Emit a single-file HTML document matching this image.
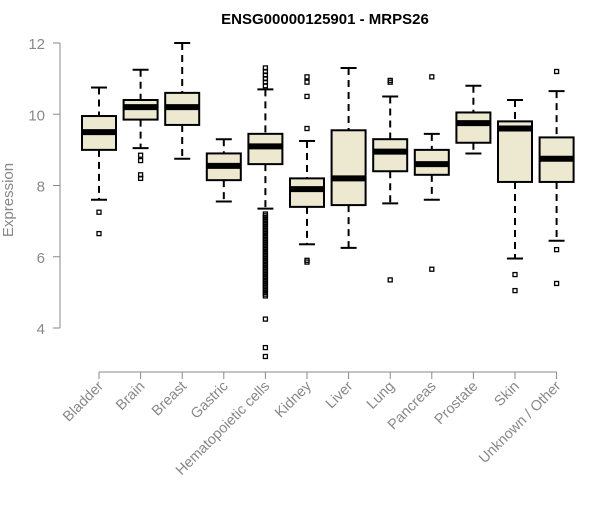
<!DOCTYPE html>
<html><head><meta charset="utf-8"><style>
body{margin:0;background:#fff}
svg text{font-family:"Liberation Sans",Arial,sans-serif}
</style></head><body>
<svg id="chart" width="600" height="500" xmlns="http://www.w3.org/2000/svg">
<text x="325" y="24" text-anchor="middle" font-size="15" font-weight="bold">ENSG00000125901 - MRPS26</text>
<text transform="translate(13,200) rotate(-90)" text-anchor="middle" font-size="15" fill="#888">Expression</text>
<g id="axes"></g><g id="boxes"></g>
</svg>
<script>
const categories=["Bladder","Brain","Breast","Gastric","Hematopoietic cells","Kidney","Liver","Lung","Pancreas","Prostate","Skin","Unknown / Other"];
const whiskerLow=[7.6,9.05,8.75,7.55,7.35,6.35,6.25,7.5,7.6,8.9,5.95,6.45];
const q1=[9.0,9.85,9.7,8.15,8.6,7.4,7.45,8.4,8.3,9.2,8.1,8.1];
const medians=[9.5,10.2,10.2,8.55,9.1,7.9,8.2,8.95,8.6,9.75,9.6,8.75];
const q3=[9.95,10.4,10.6,8.9,9.45,8.2,9.55,9.3,9.0,10.05,9.8,9.35];
const whiskerHigh=[10.75,11.25,12.0,9.3,10.7,9.25,11.3,10.5,9.45,10.8,10.4,10.65];
const outliers=[[7.25,6.65],[8.85,8.7,8.3,8.2],[],[],
[10.8,10.9,11.0,11.1,11.2,11.3,7.2,7.15,7.1,7.05,7.0,6.95,6.9,6.85,6.8,6.75,6.7,6.65,6.6,6.55,6.5,6.45,6.4,6.35,6.3,6.25,6.2,6.15,6.1,6.05,6.0,5.95,5.9,5.85,5.8,5.75,5.7,5.65,5.6,5.55,5.5,5.45,5.4,5.35,5.3,5.25,5.2,5.15,5.1,5.05,5.0,4.95,4.9,4.25,3.45,3.2],
[5.9,5.85,9.6,10.5,10.9,11.05],[],[10.9,10.95,5.35],[11.05,5.65],[],[5.5,5.05],[11.2,6.2,5.25]];
const yTicks=[4,6,8,10,12];
const NS="http://www.w3.org/2000/svg";
const y=v=>328-(v-4)*35.625;
const x=i=>99+i*41.6;
function mk(tag,attrs,parent){const e=document.createElementNS(NS,tag);for(const k in attrs)e.setAttribute(k,attrs[k]);parent.appendChild(e);return e;}
const axes=document.getElementById('axes'),boxes=document.getElementById('boxes');
let yl=mk('line',{x1:60,x2:60,y1:y(12),y2:y(4),stroke:'#888'},axes);


yTicks.forEach(t=>{
 let l=mk('line',{x1:53,x2:60,y1:y(t),y2:y(t),stroke:'#888'},axes);
 
 
 let tx=mk('text',{x:45,y:y(t)+6,'text-anchor':'end','font-size':15,fill:'#888'},axes);tx.textContent=t;
 
 
});
let xl=mk('line',{x1:x(0),x2:x(11),y1:372,y2:372,stroke:'#888'},axes);


categories.forEach((c,i)=>{
 const cx=x(i);
 let tk=mk('line',{x1:cx,x2:cx,y1:372,y2:379,stroke:'#888'},axes);
 
 
 let t=mk('text',{x:0,y:0,transform:`translate(${cx+5},${387}) rotate(-45)`,'text-anchor':'end','font-size':14.5,fill:'#888'},axes);t.textContent=c;
 
 
 const g=mk('g',{},boxes);
 
 
 mk('line',{x1:cx,x2:cx,y1:y(whiskerHigh[i]),y2:y(q3[i]),stroke:'#000','stroke-width':2,'stroke-dasharray':'7,5'},g);
 mk('line',{x1:cx,x2:cx,y1:y(q1[i]),y2:y(whiskerLow[i]),stroke:'#000','stroke-width':2,'stroke-dasharray':'7,5'},g);
 mk('line',{x1:cx-8,x2:cx+8,y1:y(whiskerHigh[i]),y2:y(whiskerHigh[i]),stroke:'#000','stroke-width':2},g);
 mk('line',{x1:cx-8,x2:cx+8,y1:y(whiskerLow[i]),y2:y(whiskerLow[i]),stroke:'#000','stroke-width':2},g);
 mk('rect',{x:cx-17,y:y(q3[i]),width:34,height:y(q1[i])-y(q3[i]),fill:'#EDE8D0',stroke:'#000','stroke-width':2},g);
 mk('line',{x1:cx-17,x2:cx+17,y1:y(medians[i]),y2:y(medians[i]),stroke:'#000','stroke-width':6},g);
 outliers[i].forEach(v=>{mk('rect',{x:cx-2,y:y(v)-2,width:4,height:4,fill:'none',stroke:'#000','stroke-width':1.3},g);});
});
</script>
</body></html>
